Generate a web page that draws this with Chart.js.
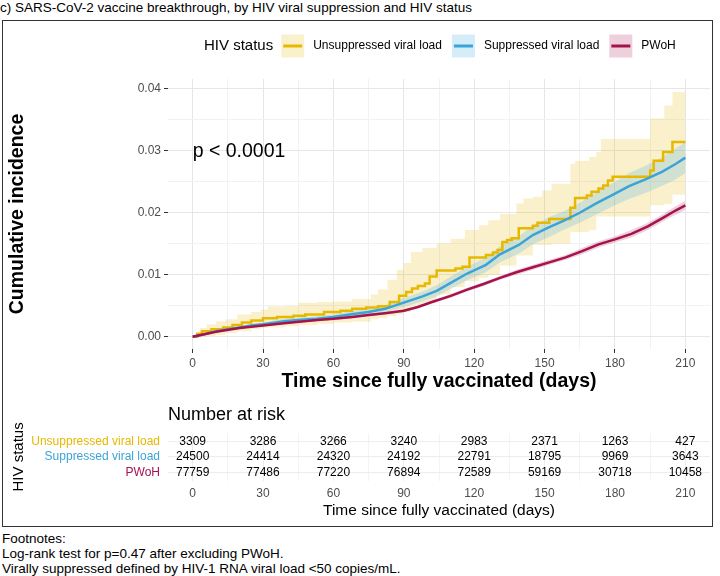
<!DOCTYPE html>
<html>
<head>
<meta charset="utf-8">
<script src="https://cdn.jsdelivr.net/npm/chart.js@4.4.0/dist/chart.umd.min.js"></script>
<style>
  html, body { margin: 0; padding: 0; background: #fff; }
  body { width: 720px; height: 576px; position: relative; overflow: hidden;
         font-family: "Liberation Sans", Arial, sans-serif; color: #000; }
  #title { position: absolute; left: 0; top: 0; font-size: 13.5px; line-height: 16px; white-space: nowrap; }
  #frame { position: absolute; left: 2px; top: 20px; width: 711px; height: 507px;
           border: 1px solid #333; box-sizing: border-box; }
  canvas { position: absolute; left: 0; }
  #kmChart { top: 0; }
  #riskChart { top: 400px; }
  #notes { position: absolute; left: 2px; top: 531px; font-size: 13.5px; line-height: 15.2px; white-space: nowrap; }
</style>
</head>
<body>
<div id="title">c) SARS-CoV-2 vaccine breakthrough, by HIV viral suppression and HIV status</div>
<div id="frame"></div>
<canvas id="kmChart" width="720" height="400"></canvas>
<canvas id="riskChart" width="720" height="125"></canvas>
<div id="notes">Footnotes:<br>Log-rank test for p=0.47 after excluding PWoH.<br>Virally suppressed defined by HIV-1 RNA viral load &lt;50 copies/mL.</div>

<script>
// groups and colours
const groups = ['Unsuppressed viral load', 'Suppressed viral load', 'PWoH'];
const lineColors = ['#E7B800', '#3CA3D7', '#A6124D'];
const bandColors = ['rgba(231,184,0,0.2)', 'rgba(46,159,223,0.2)', 'rgba(166,18,77,0.2)'];

// axis ticks
const xMajor = [0, 30, 60, 90, 120, 150, 180, 210];
const xLabels = ['0', '30', '60', '90', '120', '150', '180', '210'];
const xMinor = [15, 45, 75, 105, 135, 165, 195];
const yMajor = [0, 0.01, 0.02, 0.03, 0.04];
const yLabels = ['0.00', '0.01', '0.02', '0.03', '0.04'];
const yMinor = [0.005, 0.015, 0.025, 0.035];

// unsuppressed viral load (step curve)
const unsupDays = [0, 2, 4, 8, 13, 17, 21, 25, 30, 36, 43, 48, 56, 63, 68, 74, 79, 84, 88, 91,
  93.5, 96, 99, 101, 104, 112, 115, 118, 125, 128, 130, 132, 134, 136, 139, 145, 147, 152, 161, 163,
  168, 170, 173, 175, 177, 179, 195, 196.5, 200.5, 204.5, 210];
const unsupCum = [0, 0.0005, 0.0009, 0.0012, 0.0015, 0.0019, 0.0023, 0.0026, 0.003, 0.0032, 0.0034, 0.0036, 0.004, 0.0042, 0.0045, 0.0047, 0.0049, 0.0056, 0.0066, 0.0072,
  0.0078, 0.0082, 0.0086, 0.0097, 0.0107, 0.0110, 0.0113, 0.0128, 0.0132, 0.0136, 0.0140, 0.0153, 0.0156, 0.0159, 0.0175, 0.0179, 0.0184, 0.0190, 0.0208, 0.0224,
  0.0228, 0.0234, 0.0239, 0.0244, 0.0252, 0.0258, 0.0268, 0.0284, 0.0298, 0.0314, 0.0314];
const unsupCiDays = [0, 3, 6, 10, 14, 19, 25, 29, 32, 39, 45, 53, 60, 68, 76, 79, 83, 87, 90, 93,
  98, 104, 110, 116, 122, 126, 131, 138, 141, 145, 149, 153, 161, 163, 169, 172, 174, 195, 201, 204.5, 210];
const unsupUpper = [0, 0.0014, 0.0020, 0.0025, 0.0028, 0.0036, 0.0040, 0.0044, 0.0049, 0.0050, 0.0055, 0.0056, 0.0057, 0.0061, 0.0068, 0.0076, 0.0092, 0.0108, 0.0119, 0.0137,
  0.0143, 0.0151, 0.0158, 0.0172, 0.0180, 0.0188, 0.0198, 0.0215, 0.0223, 0.0226, 0.0236, 0.0247, 0.0279, 0.0284, 0.0290, 0.0298, 0.0319, 0.0352, 0.0373, 0.0395, 0.0395];
const unsupLower = [0, 0, 0.0001, 0.0003, 0.0006, 0.0009, 0.0012, 0.0014, 0.0015, 0.0017, 0.0019, 0.0021, 0.0023, 0.0024, 0.0028, 0.0030, 0.0033, 0.0036, 0.0040, 0.0050,
  0.0054, 0.0068, 0.0080, 0.0090, 0.0095, 0.0100, 0.0115, 0.0131, 0.0131, 0.0148, 0.0148, 0.0150, 0.0169, 0.0169, 0.0172, 0.0194, 0.0194, 0.0212, 0.0214, 0.0229, 0.0229];

// suppressed viral load
const supDays = [0, 5, 10, 15, 20, 25, 30, 39, 45, 53, 60, 67, 75, 82, 90, 98, 104, 110, 117, 125,
  131, 139, 145, 152, 158, 165, 172, 180, 186, 193, 200, 206, 210];
const supCum = [0, 0.0004, 0.0009, 0.0012, 0.0015, 0.0018, 0.0020, 0.0025, 0.0027, 0.0029, 0.0032, 0.0036, 0.0040, 0.0045, 0.0055, 0.0065, 0.0074, 0.0087, 0.0102, 0.0116,
  0.0133, 0.0148, 0.0164, 0.0177, 0.0187, 0.0200, 0.0215, 0.0231, 0.0243, 0.0254, 0.0266, 0.0279, 0.0289];
const supLower = [0, 0.0003, 0.0007, 0.0010, 0.0013, 0.0015, 0.0017, 0.0021, 0.0023, 0.0025, 0.0028, 0.0031, 0.0035, 0.0039, 0.0048, 0.0057, 0.0065, 0.0077, 0.0091, 0.0104,
  0.0120, 0.0134, 0.0149, 0.0161, 0.0172, 0.0184, 0.0197, 0.0212, 0.0222, 0.0232, 0.0243, 0.0254, 0.0264];
const supUpper = [0, 0.0005, 0.0011, 0.0014, 0.0017, 0.0021, 0.0023, 0.0029, 0.0031, 0.0033, 0.0036, 0.0041, 0.0045, 0.0051, 0.0062, 0.0073, 0.0083, 0.0097, 0.0113, 0.0128,
  0.0146, 0.0162, 0.0179, 0.0193, 0.0202, 0.0216, 0.0233, 0.0250, 0.0264, 0.0276, 0.0289, 0.0304, 0.0314];

// PWoH
const pwohDays = [0, 10, 20, 30, 40, 53, 60, 68, 75, 82, 90, 96, 102, 110, 117, 124, 131, 138, 145, 152,
  159, 166, 173, 180, 187, 194, 201, 206, 210];
const pwohCum = [0, 0.0008, 0.0014, 0.0018, 0.0022, 0.0027, 0.0029, 0.0032, 0.0035, 0.0038, 0.0042, 0.0048, 0.0056, 0.0066, 0.0076, 0.0085, 0.0095, 0.0104, 0.0112, 0.0120,
  0.0128, 0.0138, 0.0149, 0.0157, 0.0166, 0.0178, 0.0193, 0.0204, 0.0212];
const pwohLower = [0, 0.0007, 0.0013, 0.0017, 0.0021, 0.0025, 0.0027, 0.0030, 0.0033, 0.0036, 0.0040, 0.0046, 0.0054, 0.0063, 0.0073, 0.0082, 0.0092, 0.0100, 0.0108, 0.0116,
  0.0124, 0.0133, 0.0144, 0.0152, 0.0160, 0.0172, 0.0187, 0.0197, 0.0205];
const pwohUpper = [0, 0.0009, 0.0015, 0.0019, 0.0023, 0.0029, 0.0031, 0.0034, 0.0037, 0.0040, 0.0044, 0.0050, 0.0058, 0.0069, 0.0079, 0.0088, 0.0098, 0.0108, 0.0116, 0.0124,
  0.0132, 0.0143, 0.0154, 0.0162, 0.0172, 0.0184, 0.0199, 0.0211, 0.0219];

// number at risk
const riskDays = [0, 30, 60, 90, 120, 150, 180, 210];
const riskUnsup = [3309, 3286, 3266, 3240, 2983, 2371, 1263, 427];
const riskSup = [24500, 24414, 24320, 24192, 22791, 18795, 9969, 3643];
const riskPwoh = [77759, 77486, 77220, 76894, 72589, 59169, 30718, 10458];
const riskCounts = [riskUnsup, riskSup, riskPwoh];

const FONT = '"Liberation Sans", Arial, sans-serif';
const xGrid = xMajor.concat(xMinor).sort((a, b) => a - b);
const yGrid = yMajor.concat(yMinor).sort((a, b) => a - b);

function pts(xs, ys) {
  return xs.map((x, i) => ({ x: x, y: ys[i] }));
}

function band(xs, ys, color, stepped, order, fill) {
  return {
    data: pts(xs, ys), borderColor: 'transparent', borderWidth: 0, backgroundColor: color,
    pointRadius: 0, pointHoverRadius: 0, stepped: stepped, fill: fill, order: order
  };
}

function curve(xs, ys, color, stepped, order) {
  return {
    data: pts(xs, ys), borderColor: color, borderWidth: 2.5, pointRadius: 0, pointHoverRadius: 0,
    stepped: stepped, fill: false, order: order, borderJoinStyle: 'miter'
  };
}

const isMajorX = v => xMajor.indexOf(v) >= 0;
const isMajorY = v => yMajor.some(m => Math.abs(m - v) < 1e-9);

// legend and p value, drawn on top of the plot
const kmExtras = {
  id: 'kmExtras',
  afterDraw(chart) {
    const ctx = chart.ctx;
    ctx.save();
    ctx.textBaseline = 'middle';
    ctx.textAlign = 'left';
    const cy = 46;
    let x = 204;
    ctx.font = '15px ' + FONT;
    ctx.fillStyle = '#000';
    ctx.fillText('HIV status', x, cy);
    x += ctx.measureText('HIV status').width + 8;
    ctx.font = '12px ' + FONT;
    groups.forEach((g, i) => {
      ctx.fillStyle = bandColors[i];
      ctx.fillRect(x, cy - 11.5, 23, 23);
      ctx.strokeStyle = lineColors[i];
      ctx.lineWidth = 3;
      ctx.beginPath();
      ctx.moveTo(x + 2, cy);
      ctx.lineTo(x + 21, cy);
      ctx.stroke();
      x += 23 + 9;
      ctx.fillStyle = '#000';
      ctx.fillText(g, x, cy);
      x += ctx.measureText(g).width + 10;
    });
    ctx.font = '19.5px ' + FONT;
    ctx.textBaseline = 'alphabetic';
    ctx.fillText('p < 0.0001', chart.scales.x.getPixelForValue(0), 157);
    ctx.restore();
  }
};

new Chart(document.getElementById('kmChart').getContext('2d'), {
  type: 'line',
  data: {
    datasets: [
      band(unsupCiDays, unsupUpper, bandColors[0], 'before', 12, '+1'),
      band(unsupCiDays, unsupLower, 'transparent', 'before', 12, false),
      band(supDays, supUpper, bandColors[1], false, 11, '+1'),
      band(supDays, supLower, 'transparent', false, 11, false),
      band(pwohDays, pwohUpper, bandColors[2], false, 10, '+1'),
      band(pwohDays, pwohLower, 'transparent', false, 10, false),
      curve(unsupDays, unsupCum, lineColors[0], 'before', 3),
      curve(supDays, supCum, lineColors[1], false, 2),
      curve(pwohDays, pwohCum, lineColors[2], false, 1)
    ]
  },
  options: {
    responsive: false,
    animation: false,
    devicePixelRatio: 1,
    events: [],
    layout: { padding: { top: 79, right: 10, bottom: 5, left: 0 } },
    plugins: { legend: { display: false }, tooltip: { enabled: false } },
    scales: {
      x: {
        type: 'linear', min: -10.5, max: 220.5,
        afterBuildTicks: s => { s.ticks = xGrid.map(v => ({ value: v })); },
        afterFit: s => { s.height = 46; },
        ticks: {
          autoSkip: false, maxRotation: 0, padding: 3, color: '#4D4D4D',
          font: { family: FONT, size: 12 },
          callback: v => isMajorX(v) ? xLabels[xMajor.indexOf(v)] : ''
        },
        grid: {
          color: c => isMajorX(c.tick.value) ? '#E6E6E6' : '#F2F2F2',
          tickColor: c => isMajorX(c.tick.value) ? '#333333' : 'transparent',
          tickLength: 4
        },
        border: { display: false },
        title: {
          display: true, text: 'Time since fully vaccinated (days)', color: '#000',
          font: { family: FONT, size: 19.5, weight: 'bold' }, padding: { top: 0, bottom: 2 }
        }
      },
      y: {
        type: 'linear', min: -0.00198, max: 0.04158,
        afterBuildTicks: s => { s.ticks = yGrid.map(v => ({ value: v })); },
        afterFit: s => { s.width = 168; },
        ticks: {
          autoSkip: false, padding: 3, color: '#4D4D4D',
          font: { family: FONT, size: 12 },
          callback: v => {
            const i = yMajor.findIndex(m => Math.abs(m - v) < 1e-9);
            return i >= 0 ? yLabels[i] : '';
          }
        },
        grid: {
          color: c => isMajorY(c.tick.value) ? '#E6E6E6' : '#F2F2F2',
          tickColor: c => isMajorY(c.tick.value) ? '#333333' : 'transparent',
          tickLength: 4
        },
        border: { display: false },
        title: {
          display: true, text: 'Cumulative incidence', color: '#000',
          font: { family: FONT, size: 19.5, weight: 'bold' }, padding: { top: 6, bottom: 0 }
        }
      }
    }
  },
  plugins: [kmExtras]
});

// risk table numbers and heading
const riskText = {
  id: 'riskText',
  afterDatasetsDraw(chart) {
    const ctx = chart.ctx;
    ctx.save();
    ctx.font = '18px ' + FONT;
    ctx.fillStyle = '#000';
    ctx.textAlign = 'left';
    ctx.textBaseline = 'middle';
    ctx.fillText('Number at risk', chart.chartArea.left, 15);
    ctx.font = '12px ' + FONT;
    ctx.textAlign = 'center';
    chart.data.datasets.forEach((ds, i) => {
      chart.getDatasetMeta(i).data.forEach((pt, j) => {
        ctx.fillText(String(riskCounts[i][j]), pt.x, pt.y);
      });
    });
    ctx.restore();
  }
};

new Chart(document.getElementById('riskChart').getContext('2d'), {
  type: 'scatter',
  data: {
    datasets: groups.map((g, i) => ({
      data: riskDays.map(d => ({ x: d, y: g })),
      pointRadius: 0, pointHoverRadius: 0
    }))
  },
  options: {
    responsive: false,
    animation: false,
    devicePixelRatio: 1,
    events: [],
    layout: { padding: { top: 33.4, right: 10, bottom: 4.5, left: 0 } },
    plugins: { legend: { display: false }, tooltip: { enabled: false } },
    scales: {
      x: {
        type: 'linear', min: -10.5, max: 220.5,
        afterBuildTicks: s => { s.ticks = xGrid.map(v => ({ value: v })); },
        afterFit: s => { s.height = 40; },
        ticks: {
          autoSkip: false, maxRotation: 0, padding: 6, color: '#4D4D4D',
          font: { family: FONT, size: 12 },
          callback: v => isMajorX(v) ? xLabels[xMajor.indexOf(v)] : ''
        },
        grid: {
          color: c => isMajorX(c.tick.value) ? '#EDEDED' : '#F4F4F4',
          drawTicks: false
        },
        border: { display: false },
        title: {
          display: true, text: 'Time since fully vaccinated (days)', color: '#000',
          font: { family: FONT, size: 15.5 }, padding: { top: 0, bottom: 0 }
        }
      },
      y: {
        type: 'category', labels: groups, offset: true,
        afterFit: s => { s.width = 168; },
        ticks: {
          autoSkip: false, padding: 8, color: c => lineColors[c.index],
          font: { family: FONT, size: 12 }
        },
        grid: { color: '#EDEDED', drawTicks: false, offset: false },
        border: { display: false },
        title: {
          display: true, text: 'HIV status', color: '#000',
          font: { family: FONT, size: 15 }, padding: { top: 10, bottom: 0 }
        }
      }
    }
  },
  plugins: [riskText]
});
</script>
</body>
</html>
